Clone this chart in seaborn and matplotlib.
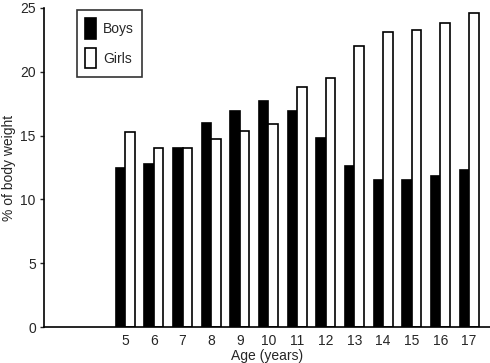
import matplotlib
matplotlib.use("Agg")
import matplotlib.pyplot as plt
import seaborn as sns
import pandas as pd

ages = [5, 6, 7, 8, 9, 10, 11, 12, 13, 14, 15, 16, 17]
boys = [12.5, 12.8, 14.0, 16.0, 16.9, 17.7, 16.9, 14.8, 12.6, 11.5, 11.5, 11.8, 12.3]
girls = [15.3, 14.0, 14.0, 14.7, 15.4, 15.9, 18.8, 19.5, 22.0, 23.1, 23.3, 23.8, 24.6]
y_ticks = [0, 5, 10, 15, 20, 25]

df = pd.DataFrame({
    "Age": [str(a) for a in ages] * 2,
    "Value": boys + girls,
    "Sex": ["Boys"] * len(ages) + ["Girls"] * len(ages),
})

sns.set_style("white")
plt.rcParams["font.family"] = ["Liberation Sans", "DejaVu Sans"]

fs = 10
fig = plt.figure(figsize=(4.9, 3.63), dpi=100)
ax = fig.add_axes([0.09, 0.099, 0.91, 0.879])

sns.barplot(data=df, x="Age", y="Value", hue="Sex",
            palette={"Boys": "black", "Girls": "white"},
            edgecolor="black", linewidth=1.2, width=0.66, ax=ax)

ax.set_xlim(-2.83, 12.73)
ax.set_ylim(0, 25)
ax.set_yticks(y_ticks)
ax.tick_params(axis="y", direction="out", length=3, width=1, labelsize=fs, pad=3, left=True)
ax.tick_params(axis="x", length=0, labelsize=fs, pad=5)
for s in ["top", "right"]:
    ax.spines[s].set_visible(False)
for s in ["left", "bottom"]:
    ax.spines[s].set_color("black")
    ax.spines[s].set_linewidth(1.2)

ax.set_xlabel("Age (years)", fontsize=fs, labelpad=1)
ax.set_ylabel("% of body weight", fontsize=fs, labelpad=3)

leg = ax.legend(loc="upper left", bbox_to_anchor=(0.074, 0.994), borderaxespad=0,
                frameon=True, fancybox=False,
                handlelength=0.75, handleheight=1.9, fontsize=fs, borderpad=0.6,
                labelspacing=0.65, handletextpad=0.5, edgecolor="black")
leg.get_frame().set_linewidth(1.2)
leg.set_title(None)

fig.savefig("out.png", dpi=100)
